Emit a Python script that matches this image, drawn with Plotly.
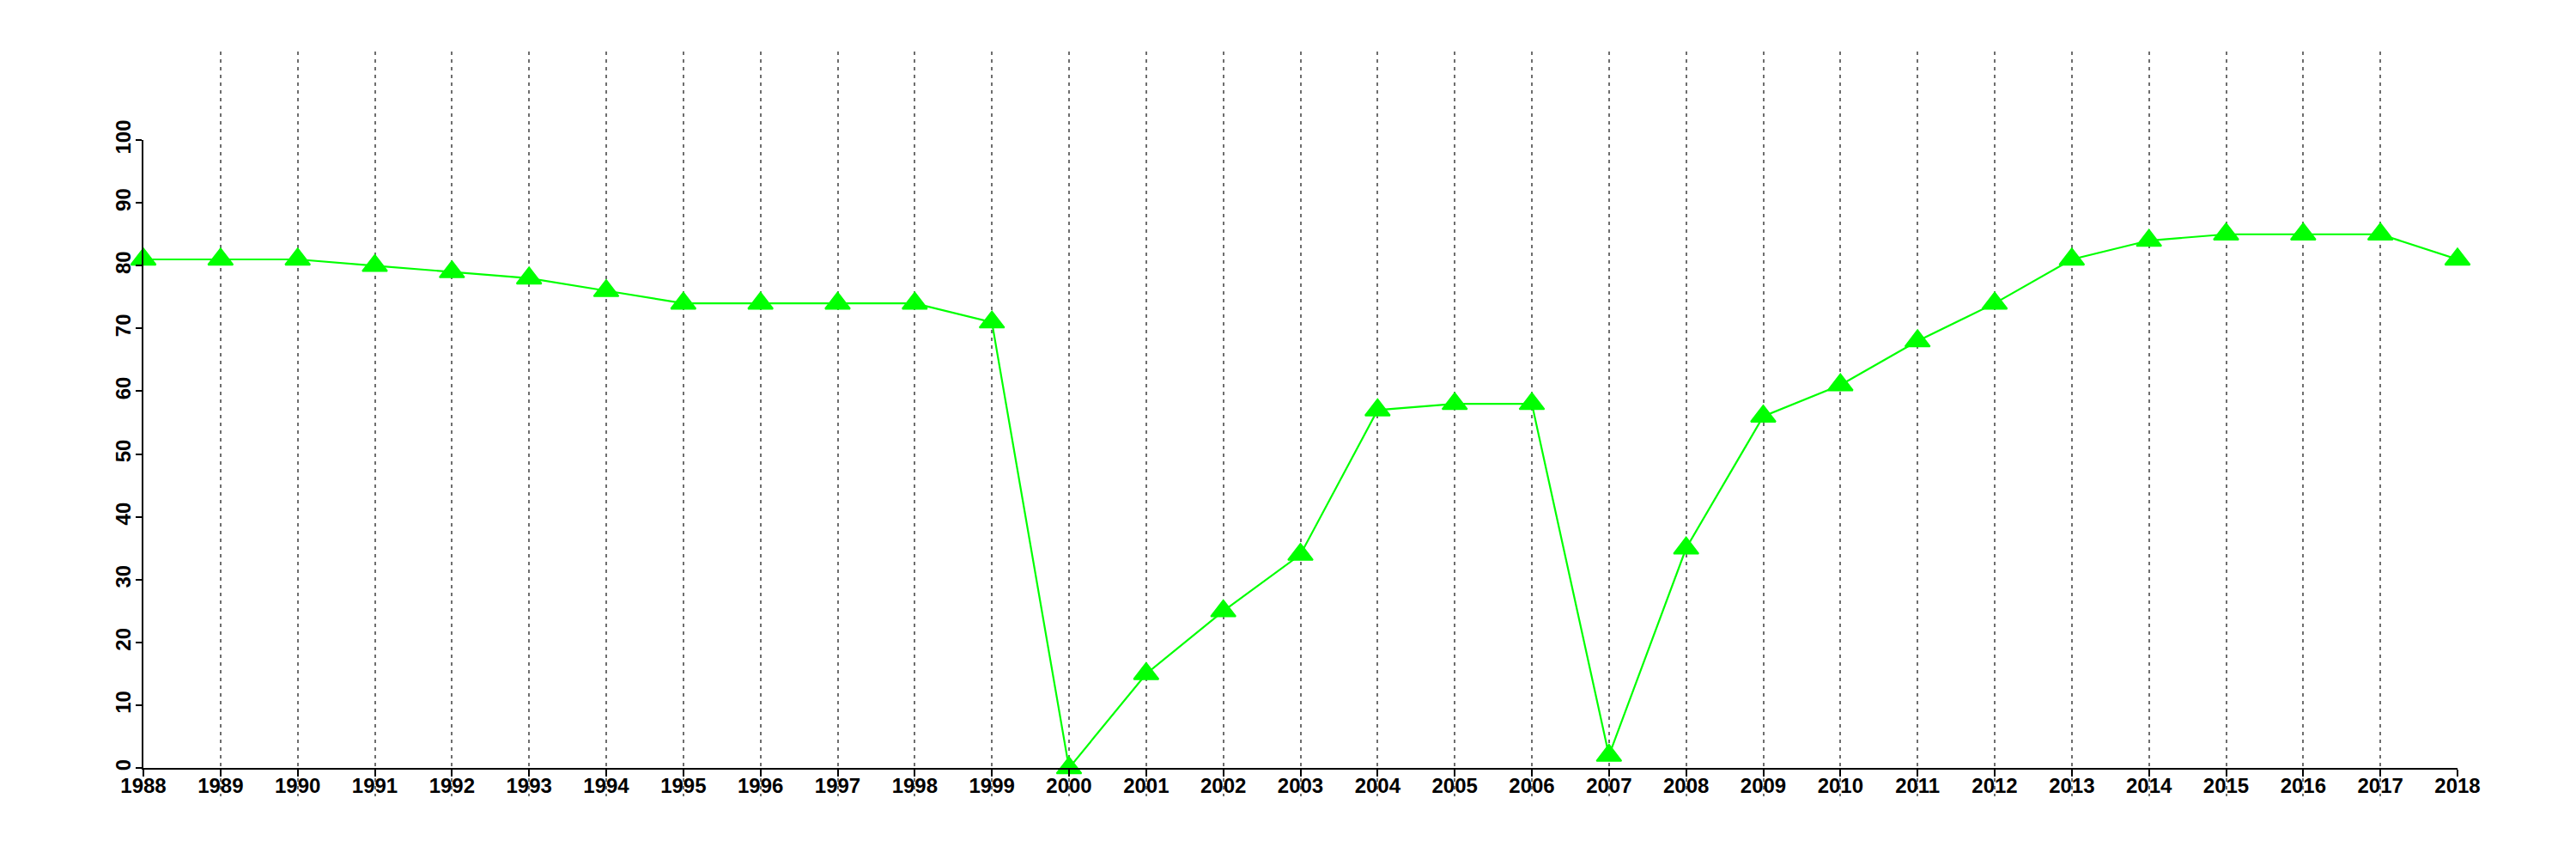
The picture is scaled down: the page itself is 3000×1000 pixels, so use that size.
import plotly.graph_objects as go

years = list(range(1988, 2019))
year_labels = [str(y) for y in years]
values = [81, 81, 81, 80, 79, 78, 76, 74, 74, 74, 74, 71, 0, 15, 25, 34, 57, 58, 58, 2,
          35, 56, 61, 68, 74, 81, 84, 85, 85, 85, 81]
y_ticks = [0, 10, 20, 30, 40, 50, 60, 70, 80, 90, 100]

W, H = 3000, 1000
OFF = 8  # default page body margin in the written html
ML, MR, MT, MB = 167 - OFF, 138 + OFF, 60 - OFF, 73 + OFF
y_full = [-4.5, 114.1]
d0 = (0 - y_full[0]) / (y_full[1] - y_full[0])
d1 = (100 - y_full[0]) / (y_full[1] - y_full[0])

fig = go.Figure()
# invisible trace to hold the grid subplot
fig.add_trace(go.Scatter(x=[years[0], years[-1]], y=[0, 0], mode="lines",
                         line=dict(color="rgba(0,0,0,0)"), xaxis="x", yaxis="y",
                         hoverinfo="skip", showlegend=False))
fig.add_trace(go.Scatter(
    x=years, y=values, mode="lines+markers", xaxis="x2", yaxis="y2",
    line=dict(color="#00FF00", width=2.2),
    marker=dict(symbol="triangle-up", size=25, color="#00FF00",
                line=dict(color="#00FF00", width=2)),
    cliponaxis=False, showlegend=False))

font = dict(family="Liberation Sans, Arial, sans-serif", size=24, color="black", weight="bold")

fig.update_layout(
    width=W, height=H,
    margin=dict(l=ML, r=MR, t=MT, b=MB),
    paper_bgcolor="white", plot_bgcolor="rgba(0,0,0,0)",
    showlegend=False,
    xaxis=dict(domain=[0, 1], range=[years[0], years[-1]], anchor="y",
               tickvals=years, showticklabels=False, ticks="",
               showgrid=True, gridcolor="#6e6e6e", gridwidth=2.4, griddash="4px,5px",
               zeroline=False, showline=False),
    yaxis=dict(domain=[0, 1], range=y_full, anchor="x", visible=False,
               showgrid=False, zeroline=False),
    xaxis2=dict(domain=[0, 1], range=[years[0], years[-1]], anchor="y2",
                tickvals=years, ticktext=year_labels, tickangle=0,
                ticks="outside", ticklen=8, tickwidth=2, tickcolor="black",
                ticklabelstandoff=-10,
                showline=True, linecolor="black", linewidth=2,
                showgrid=False, zeroline=False, tickfont=font),
    yaxis2=dict(domain=[d0, d1], range=[0, 100], anchor="x2",
                tickvals=y_ticks, ticktext=[str(v) for v in y_ticks], tickangle=-90,
                ticks="outside", ticklen=7, tickwidth=2, tickcolor="black",
                ticklabelstandoff=-4,
                showline=True, linecolor="black", linewidth=2,
                showgrid=False, zeroline=False, tickfont=font),
)

fig.write_html("out.html")
